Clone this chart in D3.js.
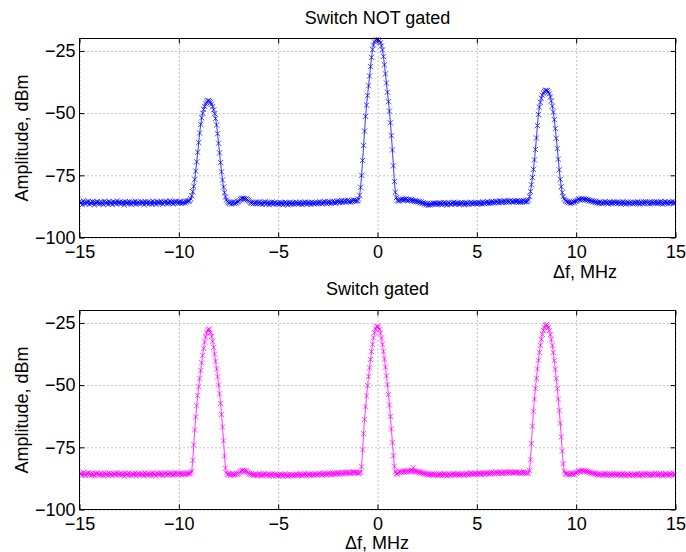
<!DOCTYPE html>
<html>
<head>
<meta charset="utf-8">
<script src="https://cdn.jsdelivr.net/npm/d3@7"></script>
<style>
  html, body { margin: 0; padding: 0; background: #fff; }
  svg { display: block; font-family: "Liberation Sans", Arial, Helvetica, sans-serif; }
  .grid line { stroke: #8a8a8a; stroke-width: 1; stroke-dasharray: 1 3; }
  .grid path { display: none; }
  .ticks path { display: none; }
  .ticks line { stroke: #000; }
  .ticks text { font-size: 18px; fill: #000; }
</style>
</head>
<body>
<svg id="chart" width="686" height="552"></svg>
<script>
// Axis ticks and labels
const xTicks = [-15, -10, -5, 0, 5, 10, 15];
const yTicks = [-100, -75, -50, -25];
const titles = ["Switch NOT gated", "Switch gated"];
const xLabel = "\u0394f, MHz";
const yLabel = "Amplitude, dBm";

// Spectrum analyser sweep: 601 bins from -15 MHz, 0.05 MHz apart
const F_START = -15;
const F_STEP = 0.05;

// Measured amplitude (dBm), switch not gated
const ampNotGated = [
  -85.6,-86.2,-85.9,-86.8,-85.3,-86.0,-86.5,-85.7,-86.1,-85.4,-86.6,-85.9,-86.3,-85.5,-86.0,-86.9,-85.8,-86.2,-85.6,-86.4,
  -85.9,-86.5,-85.7,-86.1,-86.8,-85.4,-86.0,-86.3,-85.8,-86.6,-85.5,-86.2,-86.0,-86.7,-85.6,-86.1,-85.9,-86.4,-85.3,-86.0,
  -86.3,-85.7,-86.5,-86.0,-85.8,-86.9,-85.6,-86.2,-85.9,-86.4,-85.5,-86.1,-86.7,-85.8,-86.0,-86.3,-85.4,-86.6,-86.1,-85.7,
  -86.0,-86.4,-85.6,-86.2,-85.9,-86.8,-85.5,-86.1,-86.3,-85.7,-86.5,-86.0,-85.8,-86.6,-85.4,-86.2,-85.9,-86.7,-85.6,-86.0,
  -85.8,-86.3,-85.5,-86.1,-86.6,-85.7,-86.0,-85.4,-86.4,-85.9,-86.2,-85.3,-86.0,-85.7,-86.5,-85.6,-86.1,-85.4,-85.9,-86.2,
  -85.7,-86.1,-85.5,-86.3,-85.9,-85.6,-86.2,-85.4,-85.8,-85.3,-85.4,-85.1,-84.4,-83.2,-81.6,-79.4,-76.6,-73.3,-69.6,-65.7,
  -61.8,-58.0,-54.5,-51.9,-50.0,-48.5,-47.3,-46.3,-45.6,-45.1,-44.9,-45.2,-45.7,-46.4,-47.4,-48.7,-50.2,-52.2,-54.8,-58.3,
  -62.1,-66.0,-69.9,-73.6,-76.9,-79.7,-82.0,-83.7,-84.9,-85.6,-86.0,-86.3,-85.8,-86.6,-86.1,-85.7,-86.4,-85.9,-86.2,-85.6,
  -85.6,-85.2,-84.7,-84.4,-84.2,-84.5,-84.3,-84.6,-84.4,-84.8,-85.1,-85.5,-85.9,-86.2,-85.8,-86.4,-86.0,-86.3,-85.7,-86.5,
  -86.1,-85.7,-86.4,-86.0,-86.7,-85.8,-86.3,-85.6,-86.5,-86.2,-85.9,-86.8,-86.0,-86.4,-85.7,-86.6,-86.1,-85.9,-86.3,-86.5,
  -86.2,-86.7,-85.9,-86.4,-86.0,-86.8,-86.3,-85.8,-86.5,-86.1,-86.9,-86.2,-85.9,-86.6,-86.3,-86.0,-86.7,-86.2,-85.8,-86.4,
  -86.1,-86.5,-85.8,-86.3,-86.8,-86.0,-86.4,-85.7,-86.2,-86.6,-85.9,-86.3,-86.0,-86.7,-85.8,-86.2,-86.5,-85.9,-86.1,-86.4,
  -85.9,-86.3,-85.6,-86.1,-86.5,-85.8,-86.2,-85.5,-86.0,-86.4,-85.7,-86.1,-85.6,-86.3,-85.9,-85.4,-86.0,-85.7,-86.2,-85.5,
  -85.8,-85.3,-86.0,-85.6,-85.2,-85.9,-85.5,-85.1,-85.7,-85.4,-85.0,-85.6,-85.3,-85.8,-85.2,-85.5,-84.9,-85.4,-85.1,-85.3,
  -85.2,-84.6,-83.0,-79.8,-75.0,-69.0,-63.0,-57.2,-51.3,-46.8,-42.9,-39.0,-35.1,-31.3,-27.6,-24.5,-22.6,-21.4,-20.7,-20.3,
  -20.1,-20.4,-20.9,-21.7,-23.0,-24.6,-27.2,-30.6,-34.2,-37.9,-41.6,-45.4,-49.2,-53.9,-59.0,-64.8,-71.2,-77.5,-81.8,-84.0,
  -85.0,-85.4,-85.1,-84.7,-84.9,-84.5,-85.0,-84.6,-84.8,-84.4,-84.9,-85.2,-84.7,-85.1,-84.8,-85.3,-85.0,-85.5,-85.2,-85.6,
  -85.4,-85.8,-85.5,-86.1,-85.7,-86.3,-86.0,-86.6,-86.2,-86.8,-86.4,-87.1,-86.5,-86.9,-86.3,-86.7,-86.1,-86.5,-86.2,-86.6,
  -86.3,-86.7,-86.0,-86.5,-86.1,-86.8,-86.4,-85.9,-86.6,-86.2,-86.9,-86.3,-86.0,-86.5,-86.7,-86.1,-86.4,-85.8,-86.6,-86.2,
  -86.4,-86.0,-86.7,-86.2,-86.5,-85.9,-86.3,-86.8,-86.1,-86.6,-86.0,-86.4,-86.7,-86.2,-85.8,-86.5,-86.1,-86.3,-85.9,-86.4,
  -86.1,-86.5,-85.9,-86.3,-86.0,-86.6,-85.7,-86.2,-86.4,-85.8,-86.1,-85.6,-86.3,-85.9,-86.2,-85.5,-86.0,-85.7,-86.1,-85.4,
  -85.8,-85.5,-86.1,-85.3,-85.7,-85.9,-85.4,-85.8,-85.2,-85.6,-85.9,-85.3,-85.7,-85.5,-85.1,-85.6,-85.4,-85.8,-85.2,-85.5,
  -85.6,-85.2,-85.8,-85.4,-85.9,-85.3,-85.7,-85.1,-85.6,-85.4,-85.7,-85.4,-84.9,-83.6,-81.5,-78.8,-75.9,-72.6,-68.8,-64.6,
  -60.0,-55.0,-50.5,-47.6,-45.6,-44.0,-42.8,-41.9,-41.3,-40.9,-40.8,-41.0,-41.5,-42.3,-43.5,-45.1,-47.2,-49.6,-52.6,-56.2,
  -60.1,-64.2,-68.5,-72.8,-76.6,-79.6,-81.9,-83.5,-84.5,-85.1,-85.4,-85.6,-86.0,-85.7,-86.3,-85.9,-86.1,-85.6,-85.8,-85.3,
  -85.5,-85.1,-84.8,-84.5,-84.9,-84.6,-84.3,-84.7,-84.5,-84.9,-84.6,-85.0,-84.8,-85.3,-85.0,-85.5,-85.2,-85.7,-85.4,-85.9,
  -85.6,-86.1,-85.8,-86.3,-85.7,-86.0,-86.4,-85.9,-86.2,-85.5,-86.1,-85.8,-86.5,-86.0,-85.7,-86.3,-85.9,-86.2,-85.6,-86.0,
  -86.2,-85.7,-86.4,-86.0,-85.8,-86.5,-86.1,-85.6,-86.3,-85.9,-86.6,-86.0,-85.8,-86.2,-86.4,-85.7,-86.1,-86.5,-85.9,-86.3,
  -85.9,-86.3,-85.6,-86.1,-86.6,-85.8,-86.0,-86.4,-85.7,-86.2,-85.5,-86.0,-86.3,-85.8,-86.5,-86.1,-85.7,-86.2,-86.0,-85.6,
  -86.1,-85.7,-86.4,-85.9,-86.2,-85.5,-86.0,-86.6,-85.8,-86.3,-85.6,-86.1,-85.9,-86.5,-85.7,-86.2,-86.0,-85.4,-86.3,-85.8,
  -86.0
];

// Measured amplitude (dBm), switch gated
const ampGated = [
  -85.3,-85.9,-85.6,-86.2,-85.1,-85.7,-86.4,-85.5,-85.8,-85.2,-86.0,-85.6,-86.3,-85.4,-85.9,-86.5,-85.5,-85.8,-85.3,-86.1,
  -85.7,-86.2,-85.4,-85.9,-86.5,-85.3,-85.8,-86.1,-85.6,-86.3,-85.4,-85.9,-85.7,-86.4,-85.5,-85.8,-85.6,-86.2,-85.2,-85.9,
  -86.0,-85.5,-86.3,-85.8,-85.6,-86.6,-85.4,-86.0,-85.7,-86.2,-85.3,-85.9,-86.4,-85.6,-85.8,-86.1,-85.3,-86.4,-85.9,-85.5,
  -85.8,-86.2,-85.4,-86.0,-85.7,-86.5,-85.3,-85.9,-86.1,-85.5,-86.3,-85.8,-85.6,-86.4,-85.2,-86.0,-85.7,-86.5,-85.4,-85.8,
  -85.6,-86.1,-85.3,-85.9,-86.4,-85.5,-85.8,-85.2,-86.2,-85.7,-86.0,-85.1,-85.8,-85.5,-86.3,-85.4,-85.9,-85.2,-85.7,-86.0,
  -85.5,-85.9,-85.3,-86.1,-85.7,-85.4,-86.0,-85.6,-85.2,-85.8,-85.4,-85.7,-85.3,-84.6,-80.2,-74.0,-68.0,-62.8,-58.2,-54.2,
  -50.6,-47.3,-44.1,-41.0,-38.0,-35.2,-32.7,-30.6,-29.0,-27.9,-27.4,-27.8,-28.9,-30.4,-32.4,-34.8,-37.5,-40.4,-43.5,-46.7,
  -50.0,-53.5,-57.4,-61.8,-66.8,-72.4,-78.5,-83.4,-85.3,-85.8,-86.1,-85.6,-86.3,-85.8,-85.5,-86.2,-85.7,-86.0,-85.4,-85.9,
  -85.6,-85.2,-84.8,-84.5,-84.3,-84.6,-84.4,-84.7,-84.5,-84.9,-85.2,-85.6,-85.9,-85.5,-86.1,-85.8,-86.3,-85.7,-86.0,-86.4,
  -86.0,-85.6,-86.3,-85.9,-86.5,-85.7,-86.1,-85.5,-86.4,-86.0,-85.8,-86.6,-85.9,-86.2,-85.6,-86.4,-86.0,-85.8,-86.2,-86.3,
  -86.1,-86.5,-85.8,-86.3,-85.9,-86.6,-86.2,-85.7,-86.4,-86.0,-86.7,-86.1,-85.8,-86.4,-86.2,-85.9,-86.5,-86.1,-85.7,-86.3,
  -85.9,-86.3,-85.6,-86.1,-86.5,-85.8,-86.2,-85.5,-86.0,-86.4,-85.7,-86.1,-85.8,-86.4,-85.6,-86.0,-86.2,-85.7,-85.9,-86.1,
  -85.7,-86.0,-85.4,-85.9,-86.2,-85.6,-86.0,-85.3,-85.8,-86.1,-85.5,-85.9,-85.4,-86.0,-85.7,-85.2,-85.8,-85.5,-85.9,-85.3,
  -85.6,-85.2,-85.8,-85.4,-85.1,-85.7,-85.3,-85.0,-85.5,-85.2,-84.9,-85.4,-85.1,-85.6,-85.0,-85.3,-84.8,-85.2,-85.0,-85.2,
  -85.3,-85.5,-85.2,-85.0,-82.8,-76.0,-69.5,-63.8,-58.7,-54.3,-50.2,-46.5,-43.0,-39.7,-36.5,-33.6,-31.0,-28.9,-27.4,-26.6,
  -26.3,-26.7,-27.6,-29.1,-31.1,-33.6,-36.4,-39.5,-42.8,-46.3,-49.9,-53.8,-58.0,-62.6,-67.6,-73.0,-78.4,-82.6,-84.8,-85.6,
  -85.8,-85.3,-85.0,-84.7,-85.1,-84.8,-84.5,-84.9,-84.6,-85.0,-84.7,-84.4,-84.8,-84.5,-84.2,-84.6,-83.2,-84.4,-84.9,-84.6,
  -85.0,-84.7,-85.2,-84.9,-85.4,-85.1,-85.6,-85.3,-85.8,-85.5,-86.0,-85.7,-86.2,-85.8,-86.0,-85.6,-86.1,-85.7,-85.9,-86.3,
  -85.9,-86.3,-85.7,-86.1,-85.6,-86.4,-86.0,-85.5,-86.2,-85.8,-86.5,-85.9,-85.6,-86.1,-86.3,-85.7,-86.0,-85.5,-86.2,-85.8,
  -86.0,-85.6,-86.2,-85.8,-86.1,-85.5,-85.9,-86.3,-85.7,-86.0,-85.4,-85.9,-86.2,-85.6,-85.3,-85.8,-85.5,-85.9,-85.4,-85.7,
  -85.5,-85.9,-85.3,-85.7,-85.4,-86.0,-85.2,-85.6,-85.8,-85.3,-85.6,-85.1,-85.7,-85.4,-85.6,-85.0,-85.5,-85.2,-85.6,-84.9,
  -85.4,-85.0,-85.6,-84.9,-85.3,-85.5,-85.0,-85.4,-84.8,-85.2,-85.5,-84.9,-85.3,-85.1,-84.8,-85.2,-85.0,-85.4,-84.9,-85.1,
  -85.2,-84.9,-85.4,-85.1,-85.6,-85.0,-85.3,-84.8,-85.4,-85.1,-85.5,-85.2,-85.4,-84.3,-80.0,-73.5,-66.5,-60.5,-55.6,-51.3,
  -47.3,-43.5,-40.0,-36.8,-34.0,-31.6,-29.6,-28.0,-26.8,-26.0,-25.7,-26.1,-26.9,-28.1,-29.7,-31.7,-34.1,-36.9,-40.1,-43.6,
  -47.4,-51.4,-55.6,-60.2,-65.3,-70.8,-76.5,-81.6,-84.6,-85.5,-85.9,-85.4,-86.1,-85.7,-85.9,-85.3,-85.8,-85.5,-86.0,-85.2,
  -85.4,-85.0,-84.7,-84.4,-84.8,-84.5,-84.2,-84.6,-84.4,-84.8,-84.5,-84.9,-84.7,-85.2,-84.9,-85.4,-85.1,-85.6,-85.3,-85.8,
  -85.5,-86.0,-85.7,-86.2,-85.6,-85.9,-86.3,-85.8,-86.1,-85.4,-86.0,-85.7,-86.4,-85.9,-85.6,-86.2,-85.8,-86.1,-85.5,-85.9,
  -86.1,-85.6,-86.3,-85.9,-85.7,-86.4,-86.0,-85.5,-86.2,-85.8,-86.5,-85.9,-85.7,-86.1,-86.3,-85.6,-86.0,-86.4,-85.8,-86.2,
  -85.8,-86.2,-85.5,-86.0,-86.5,-85.7,-85.9,-86.3,-85.6,-86.1,-85.4,-85.9,-86.2,-85.7,-86.4,-86.0,-85.6,-86.1,-85.9,-85.5,
  -86.0,-85.6,-86.3,-85.8,-86.1,-85.4,-85.9,-86.5,-85.7,-86.2,-85.5,-86.0,-85.8,-86.4,-85.6,-86.1,-85.9,-85.3,-86.2,-85.7,
  -85.9
];

const freq = ampNotGated.map((_, i) => F_START + i * F_STEP);

const svg = d3.select("#chart");
const left = 79.5, right = 675.5;

const panels = [
  { top: 38.5, bottom: 237.5, amp: ampNotGated, color: "#0000ff", title: titles[0],
    titleY: 24, xLabelX: 585, xLabelY: 278 },
  { top: 310.5, bottom: 509.5, amp: ampGated, color: "#ff00ff", title: titles[1],
    titleY: 295, xLabelX: 377, xLabelY: 549 }
];

panels.forEach((p, k) => {
  const x = d3.scaleLinear().domain([-15, 15]).range([left, right]);
  const y = d3.scaleLinear().domain([-100, -20]).range([p.bottom, p.top]);
  const h = p.bottom - p.top, w = right - left;
  const g = svg.append("g");

  // dotted grid
  g.append("g").attr("class", "grid")
    .attr("transform", `translate(0,${p.bottom})`)
    .call(d3.axisBottom(x).tickValues(xTicks).tickSize(-h).tickFormat(""));
  g.append("g").attr("class", "grid")
    .attr("transform", `translate(${left},0)`)
    .call(d3.axisLeft(y).tickValues(yTicks).tickSize(-w).tickFormat(""));

  // trace: line plus x markers
  const clipId = "clip" + k;
  svg.append("clipPath").attr("id", clipId)
    .append("rect").attr("x", left).attr("y", p.top - 1).attr("width", w).attr("height", h + 1);
  const trace = g.append("g").attr("clip-path", `url(#${clipId})`);
  const line = d3.line().x((d, i) => x(freq[i])).y(d => y(d));
  trace.append("path").datum(p.amp)
    .attr("d", line).attr("fill", "none")
    .attr("stroke", p.color).attr("stroke-width", 0.8);
  const s = 2.6;
  const marks = p.amp.map((v, i) => {
    const px = x(freq[i]), py = y(v);
    return `M${px - s},${py - s}L${px + s},${py + s}M${px - s},${py + s}L${px + s},${py - s}`;
  }).join("");
  trace.append("path").attr("d", marks)
    .attr("fill", "none").attr("stroke", p.color)
    .attr("stroke-width", 0.9).attr("stroke-opacity", 0.8);

  // ticks on all four sides, pointing inward
  g.append("g").attr("class", "ticks")
    .attr("transform", `translate(0,${p.bottom})`)
    .call(d3.axisBottom(x).tickValues(xTicks).tickSize(-5).tickSizeOuter(0).tickPadding(8));
  g.append("g").attr("class", "ticks")
    .attr("transform", `translate(0,${p.top})`)
    .call(d3.axisTop(x).tickValues(xTicks).tickSize(-5).tickSizeOuter(0).tickFormat(""));
  g.append("g").attr("class", "ticks")
    .attr("transform", `translate(${left},0)`)
    .call(d3.axisLeft(y).tickValues(yTicks).tickSize(-5).tickSizeOuter(0).tickPadding(4));
  g.append("g").attr("class", "ticks")
    .attr("transform", `translate(${right},0)`)
    .call(d3.axisRight(y).tickValues(yTicks).tickSize(-5).tickSizeOuter(0).tickFormat(""));

  // axes box
  g.append("rect").attr("x", left).attr("y", p.top).attr("width", w).attr("height", h)
    .attr("fill", "none").attr("stroke", "#000").attr("stroke-width", 1);

  // labels
  g.append("text").attr("x", (left + right) / 2).attr("y", p.titleY)
    .attr("text-anchor", "middle").attr("font-size", 18).text(p.title);
  g.append("text").attr("x", p.xLabelX).attr("y", p.xLabelY)
    .attr("text-anchor", "middle").attr("font-size", 18).text(xLabel);
  g.append("text")
    .attr("transform", `translate(28,${(p.top + p.bottom) / 2}) rotate(-90)`)
    .attr("text-anchor", "middle").attr("font-size", 18).text(yLabel);
});
</script>
</body>
</html>
